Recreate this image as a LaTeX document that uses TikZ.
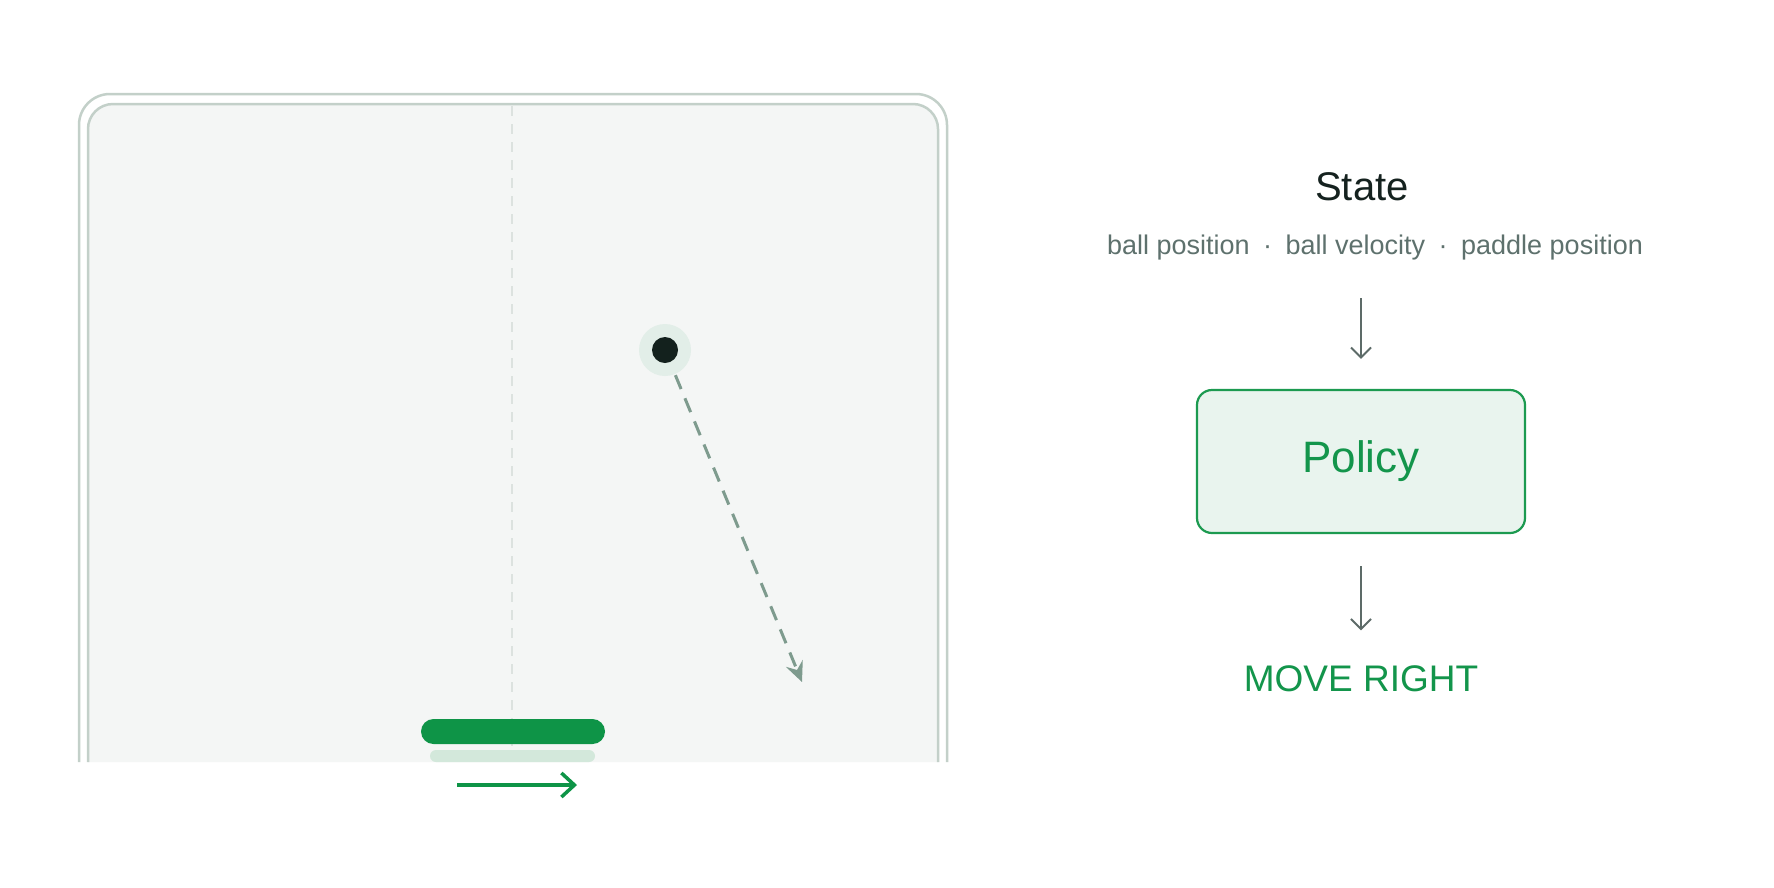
\documentclass[tikz,border=0pt]{standalone}
\usepackage{fontspec}
\setmainfont{Liberation Sans}
\usetikzlibrary{arrows.meta}
\definecolor{framec}{HTML}{C3D0C9}
\definecolor{panel}{HTML}{F4F6F5}
\definecolor{midline}{HTML}{DCE2DF}
\definecolor{halo}{HTML}{E2EEE8}
\definecolor{balldark}{HTML}{13211D}
\definecolor{traj}{HTML}{7E9B8E}
\definecolor{gpaddle}{HTML}{0E9447}
\definecolor{gshadow}{HTML}{D3E8DB}
\definecolor{titlec}{HTML}{15221F}
\definecolor{subc}{HTML}{5E716D}
\definecolor{arrowc}{HTML}{5D6B68}
\definecolor{pfill}{HTML}{E9F4EE}
\definecolor{pborder}{HTML}{1C9A50}
\definecolor{gtext}{HTML}{13954B}
\tikzset{
  frameline/.style={draw=framec, line width=2.5pt},
  grayarrow/.style={draw=arrowc, line width=2pt, -{Straight Barb[length=10pt,width=20pt,line width=2pt]}},
  policybox/.style={draw=pborder, fill=pfill, line width=2.2pt, rounded corners=15pt, minimum width=328pt, minimum height=143pt, inner sep=0pt},
}
\begin{document}
\begin{tikzpicture}[x=1pt,y=-1pt]
\useasboundingbox (0,0) rectangle (1774,887);
\fill[white] (0,0) rectangle (1774,887);
% panel fill
\fill[panel] (88,762) -- (88,129) arc[start angle=180,end angle=270,radius=25] -- (913,104) arc[start angle=270,end angle=360,radius=25] -- (938,762) -- cycle;
% frames (open at bottom)
\draw[frameline] (79,762) -- (79,125) arc[start angle=180,end angle=270,radius=31] -- (916,94) arc[start angle=270,end angle=360,radius=31] -- (947,762);
\draw[frameline] (88,762) -- (88,129) arc[start angle=180,end angle=270,radius=25] -- (913,104) arc[start angle=270,end angle=360,radius=25] -- (938,762);
% center dashed line
\draw[midline, line width=2pt, dash pattern=on 10pt off 8pt] (512,106) -- (512,762);
% paddle shadow and paddle
\fill[gshadow, rounded corners=6pt] (430,750) rectangle (595,762);
\fill[gpaddle, rounded corners=12.5pt] (421,719) rectangle (605,744);
% move arrow
\coordinate (ma) at (457,785);
\coordinate (mb) at (577,785);
\draw[gpaddle, line width=3.5pt, -{Straight Barb[length=13pt,width=24pt,line width=3.5pt]}] (ma) -- (mb);
% ball
\node[circle, fill=halo, minimum size=52pt, inner sep=0pt] (halo) at (665,350) {};
\node[circle, fill=balldark, minimum size=26pt, inner sep=0pt] (ball) at (665,350) {};
\coordinate (tend) at (802,682);
\draw[traj, line width=3pt, dash pattern=on 15pt off 10pt, shorten <=14pt, -{Stealth[length=20pt,width=18pt,inset=7pt]}] (ball) -- (tend);
% right side
\node[text=titlec, font=\fontsize{40}{48}\selectfont] (state) at (1362,187) {State};
\node[text=subc, font=\fontsize{27}{33}\selectfont] (sub) at (1375,248) {ball position\hspace{0.5em}·\hspace{0.5em}ball velocity\hspace{0.5em}·\hspace{0.5em}paddle position};
\node[policybox, text=gtext, font=\fontsize{44}{52}\selectfont] (policy) at (1361,461.5) {Policy};
\node[text=gtext, font=\fontsize{37}{44}\selectfont] (move) at (1361,679) {MOVE RIGHT};
\draw[grayarrow] ([yshift=-34pt]policy.north |- sub.south) -- ([yshift=30pt]policy.north);
\draw[grayarrow] ([yshift=-32pt]policy.south) -- ([yshift=32pt]move.north);
\end{tikzpicture}
\end{document}
